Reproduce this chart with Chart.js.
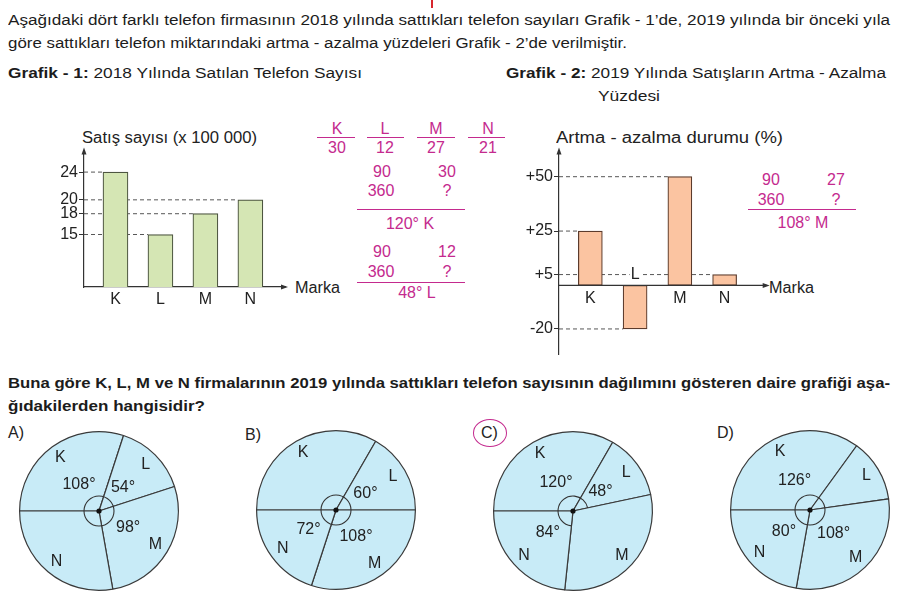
<!DOCTYPE html>
<html>
<head>
<meta charset="utf-8">
<script src="https://cdn.jsdelivr.net/npm/chart.js@4.4.1/dist/chart.umd.min.js"></script>
<style>
  body { margin: 0; background: #fff; }
  #page { position: relative; width: 900px; height: 596px; overflow: hidden; background: #fff; }
  canvas { position: absolute; }
  .t { position: absolute; white-space: nowrap; line-height: 18px; font-size: 15.5px; color: #1c1c1c;
       font-family: "Liberation Sans Narrow", "Liberation Sans", Arial, sans-serif; transform-origin: 0 50%; }
  .a { position: absolute; white-space: nowrap; line-height: 18px; font-size: 16px; color: #222;
       font-family: "Liberation Sans", Arial, sans-serif; transform-origin: 0 50%; }
  .m { position: absolute; width: 90px; text-align: center; line-height: 18px; font-size: 16px; color: #c42a8e;
       font-family: "Liberation Sans", Arial, sans-serif; }
  .ml { position: absolute; height: 1.3px; background: #c42a8e; }
  b { font-weight: bold; }
</style>
</head>
<body>
<div id="page">
  <div style="position:absolute;left:431px;top:0;width:2px;height:8px;background:#d8262e"></div>

  <div class="t" style="left:8px;top:11px" data-w="882">Aşağıdaki dört farklı telefon firmasının 2018 yılında sattıkları telefon sayıları Grafik - 1’de, 2019 yılında bir önceki yıla</div>
  <div class="t" style="left:8px;top:34px" data-w="619">göre sattıkları telefon miktarındaki artma - azalma yüzdeleri Grafik - 2’de verilmiştir.</div>
  <div class="t" style="left:8px;top:64px" data-w="354"><b>Grafik - 1:</b> 2018 Yılında Satılan Telefon Sayısı</div>
  <div class="t" style="left:506px;top:64px" data-w="380"><b>Grafik - 2:</b> 2019 Yılında Satışların Artma - Azalma</div>
  <div class="t" style="left:598px;top:87px" data-w="62">Yüzdesi</div>

  <div class="a" style="left:82px;top:129px" data-w="175">Satış sayısı (x 100 000)</div>
  <div class="a" style="left:295px;top:279px" data-w="45">Marka</div>
  <div class="a" style="left:556px;top:129px" data-w="227">Artma - azalma durumu (%)</div>
  <div class="a" style="left:769px;top:279px" data-w="45">Marka</div>

  <!-- el yazısı çözüm notları -->
  <div class="m" style="left:292px;top:120px">K</div>
  <div class="m" style="left:340px;top:120px">L</div>
  <div class="m" style="left:391px;top:120px">M</div>
  <div class="m" style="left:443px;top:120px">N</div>
  <div class="ml" style="left:317px;top:137px;width:38px"></div>
  <div class="ml" style="left:367px;top:137px;width:37px"></div>
  <div class="ml" style="left:417px;top:137px;width:38px"></div>
  <div class="ml" style="left:468px;top:137px;width:37px"></div>
  <div class="m" style="left:292px;top:139px">30</div>
  <div class="m" style="left:340px;top:139px">12</div>
  <div class="m" style="left:391px;top:139px">27</div>
  <div class="m" style="left:443px;top:139px">21</div>

  <div class="m" style="left:337px;top:163px">90</div>
  <div class="m" style="left:402px;top:163px">30</div>
  <div class="m" style="left:336px;top:182px">360</div>
  <div class="m" style="left:402px;top:182px">?</div>
  <div class="ml" style="left:357px;top:209px;width:108px"></div>
  <div class="m" style="left:365px;top:215px">120° K</div>

  <div class="m" style="left:337px;top:243px">90</div>
  <div class="m" style="left:402px;top:243px">12</div>
  <div class="m" style="left:336px;top:263px">360</div>
  <div class="m" style="left:402px;top:263px">?</div>
  <div class="ml" style="left:357px;top:282px;width:108px"></div>
  <div class="m" style="left:372px;top:284px">48° L</div>

  <div class="m" style="left:726px;top:171px">90</div>
  <div class="m" style="left:791px;top:171px">27</div>
  <div class="m" style="left:726px;top:191px">360</div>
  <div class="m" style="left:791px;top:191px">?</div>
  <div class="ml" style="left:748px;top:209px;width:108px"></div>
  <div class="m" style="left:758px;top:214px">108° M</div>

  <div class="t" style="left:8px;top:374px" data-w="882"><b>Buna göre K, L, M ve N firmalarının 2019 yılında sattıkları telefon sayısının dağılımını gösteren daire grafiği aşa-</b></div>
  <div class="t" style="left:8px;top:397px" data-w="197"><b>ğıdakilerden hangisidir?</b></div>

  <div class="a" style="left:8px;top:424px">A)</div>
  <div class="a" style="left:245px;top:426px">B)</div>
  <div class="a" style="left:481px;top:424px">C)</div>
  <div style="position:absolute;left:473px;top:419px;width:32px;height:26px;border:1.6px solid #c42a8e;border-radius:50%"></div>
  <div class="a" style="left:717px;top:424px">D)</div>

  <canvas id="bar1" width="345" height="180" style="left:0px;top:140px"></canvas>
  <canvas id="bar2" width="340" height="225" style="left:500px;top:140px"></canvas>
  <canvas id="pieA" width="170" height="170" style="left:14px;top:426px"></canvas>
  <canvas id="pieB" width="170" height="170" style="left:251px;top:425px"></canvas>
  <canvas id="pieC" width="170" height="170" style="left:488px;top:426px"></canvas>
  <canvas id="pieD" width="170" height="170" style="left:725px;top:425px"></canvas>
</div>

<script>
const firms = ["K", "L", "M", "N"];
const sales2018 = [24, 15, 18, 20];
const sales2018Ticks = [15, 18, 20, 24];
const change2019 = [25, -20, 50, 5];
const change2019Ticks = [-20, 5, 25, 50];

const pieA = [108, 54, 98, 100];
const pieB = [120, 60, 108, 72];
const pieC = [120, 48, 108, 84];
const pieD = [126, 46, 108, 80];

// fit the condensed text lines to the widths in the picture
document.querySelectorAll("[data-w]").forEach(el => {
    let w = el.getBoundingClientRect().width;
    el.style.transform = "scaleX(" + (el.dataset.w / w) + ")";
});

Chart.defaults.font.family = "'Liberation Sans', Arial, sans-serif";
Chart.defaults.font.size = 16;
Chart.defaults.color = "#222";
Chart.defaults.animation = false;

function arrowUp(ctx, x, y) {
    ctx.beginPath();
    ctx.moveTo(x, y - 3);
    ctx.lineTo(x - 2.5, y + 4);
    ctx.lineTo(x + 2.5, y + 4);
    ctx.closePath();
    ctx.fill();
}
function arrowRight(ctx, x, y) {
    ctx.beginPath();
    ctx.moveTo(x + 3, y);
    ctx.lineTo(x - 4, y - 2.5);
    ctx.lineTo(x - 4, y + 2.5);
    ctx.closePath();
    ctx.fill();
}

// dashed guide lines from the y axis to each bar
const guides = {
    id: "guides",
    beforeDatasetsDraw(chart) {
        let ctx = chart.ctx;
        let area = chart.chartArea;
        ctx.save();
        ctx.strokeStyle = "#444";
        ctx.lineWidth = 0.9;
        ctx.setLineDash([4, 3]);
        chart.getDatasetMeta(0).data.forEach(bar => {
            ctx.beginPath();
            ctx.moveTo(area.left, bar.y);
            ctx.lineTo(bar.x - bar.width / 2, bar.y);
            ctx.stroke();
        });
        ctx.restore();
    },
    afterDraw(chart, args, opts) {
        let ctx = chart.ctx;
        let area = chart.chartArea;
        let y0 = chart.scales.y.getPixelForValue(0);
        ctx.save();
        ctx.fillStyle = "#333";
        ctx.strokeStyle = "#333";
        ctx.lineWidth = 1.2;
        arrowUp(ctx, area.left, area.top);
        if (opts.zeroAxis) {
            ctx.beginPath();
            ctx.moveTo(area.left, y0);
            ctx.lineTo(area.right, y0);
            ctx.stroke();
            arrowRight(ctx, area.right, y0);
            ctx.font = "16px 'Liberation Sans', Arial, sans-serif";
            ctx.textAlign = "center";
            ctx.textBaseline = "middle";
            chart.getDatasetMeta(0).data.forEach((bar, i) => {
                let v = change2019[i];
                let y = v >= 0 ? y0 + 13 : y0 - 11;
                if (v < 0) {
                    // keep the label readable over the guide line
                    let w = ctx.measureText(firms[i]).width;
                    ctx.fillStyle = "#fff";
                    ctx.fillRect(bar.x - w / 2 - 1, y - 7, w + 2, 14);
                }
                ctx.fillStyle = "#222";
                ctx.fillText(firms[i], bar.x, y);
            });
        } else {
            arrowRight(ctx, area.right, area.bottom);
        }
        ctx.restore();
    }
};

new Chart(document.getElementById("bar1"), {
    type: "bar",
    data: {
        datasets: [{
            data: sales2018.map((v, i) => ({ x: i + 1, y: v })),
            backgroundColor: "#d5e6b4",
            borderColor: "#4d5540",
            borderWidth: 1.2,
            borderSkipped: false,
            barThickness: 25,
        }],
    },
    options: {
        responsive: false,
        layout: { padding: { top: 9, right: 60, bottom: 0, left: 0 } },
        plugins: { legend: { display: false }, tooltip: { enabled: false }, guides: {} },
        scales: {
            x: {
                type: "linear", min: 0.3, max: 4.77, offset: false,
                afterBuildTicks: s => { s.ticks = firms.map((f, i) => ({ value: i + 1 })); },
                afterFit: s => { s.height = 33; },
                ticks: { callback: v => firms[v - 1], padding: 3, maxRotation: 0, autoSkip: false },
                grid: { display: false, drawTicks: false },
                border: { color: "#333", width: 1.2 },
            },
            y: {
                min: 7.43, max: 27.1,
                afterBuildTicks: s => { s.ticks = sales2018Ticks.map(v => ({ value: v })); },
                afterFit: s => { s.width = 84; },
                ticks: { padding: 1 },
                grid: { drawOnChartArea: false, tickLength: 5, color: "#333" },
                border: { color: "#333", width: 1.2 },
            },
        },
    },
    plugins: [guides],
});

new Chart(document.getElementById("bar2"), {
    type: "bar",
    data: {
        datasets: [{
            data: change2019.map((v, i) => ({ x: i + 1, y: v })),
            backgroundColor: "#fbc4a1",
            borderColor: "#5b3b2c",
            borderWidth: 1.2,
            borderSkipped: false,
            barThickness: 24,
        }],
    },
    options: {
        responsive: false,
        layout: { padding: { top: 9, right: 73.3, bottom: 8, left: 0 } },
        plugins: { legend: { display: false }, tooltip: { enabled: false }, guides: { zeroAxis: true } },
        scales: {
            x: { type: "linear", min: 0.3, max: 4.94, offset: false, display: false },
            y: {
                min: -31.7, max: 62,
                afterBuildTicks: s => { s.ticks = change2019Ticks.map(v => ({ value: v })); },
                afterFit: s => { s.width = 59; },
                ticks: { padding: 1, callback: v => (v > 0 ? "+" : "") + v },
                grid: { drawOnChartArea: false, tickLength: 5, color: "#333" },
                border: { color: "#333", width: 1.2 },
            },
        },
    },
    plugins: [guides],
});

// angle marks, centre dot, firm letters and degree labels on the pies
const pieMarks = {
    id: "pieMarks",
    afterDatasetsDraw(chart, args, opts) {
        let ctx = chart.ctx;
        let arcs = chart.getDatasetMeta(0).data;
        let vals = chart.data.datasets[0].data;
        let cx = arcs[0].x, cy = arcs[0].y, R = arcs[0].outerRadius;
        ctx.save();
        ctx.strokeStyle = "#333";
        ctx.lineWidth = 1.1;
        ctx.beginPath();
        if (opts.from === undefined) {
            ctx.arc(cx, cy, 15, 0, Math.PI * 2);
        } else {
            let a0 = arcs[opts.from].startAngle;
            let a1 = arcs[opts.to].endAngle;
            if (a1 < a0) a1 += Math.PI * 2;
            ctx.arc(cx, cy, 15, a0, a1);
        }
        ctx.stroke();
        ctx.fillStyle = "#111";
        ctx.beginPath();
        ctx.arc(cx, cy, 2.6, 0, Math.PI * 2);
        ctx.fill();

        ctx.fillStyle = "#222";
        ctx.font = "16px 'Liberation Sans', Arial, sans-serif";
        ctx.textAlign = "center";
        ctx.textBaseline = "middle";
        arcs.forEach((arc, i) => {
            let mid = (arc.startAngle + arc.endAngle) / 2;
            ctx.fillText(firms[i], cx + Math.cos(mid) * R * 0.83, cy + Math.sin(mid) * R * 0.83);
            if (opts.shown[i]) {
                ctx.fillText(vals[i] + "°", cx + Math.cos(mid) * 34, cy + Math.sin(mid) * 33);
            }
        });
        ctx.restore();
    }
};

function makePie(id, values, marks) {
    new Chart(document.getElementById(id), {
        type: "pie",
        data: {
            labels: firms,
            datasets: [{
                data: values,
                backgroundColor: "#c8ebf7",
                borderColor: "#3a3a3a",
                borderWidth: 1.2,
            }],
        },
        options: {
            responsive: false,
            rotation: -90,
            layout: { padding: 5 },
            plugins: { legend: { display: false }, tooltip: { enabled: false }, pieMarks: marks },
        },
        plugins: [pieMarks],
    });
}

makePie("pieA", pieA, { shown: [true, true, true, false] });
makePie("pieB", pieB, { shown: [false, true, true, true] });
makePie("pieC", pieC, { shown: [true, true, false, true], from: 3, to: 1 });
makePie("pieD", pieD, { shown: [true, false, true, true] });
</script>
</body>
</html>
